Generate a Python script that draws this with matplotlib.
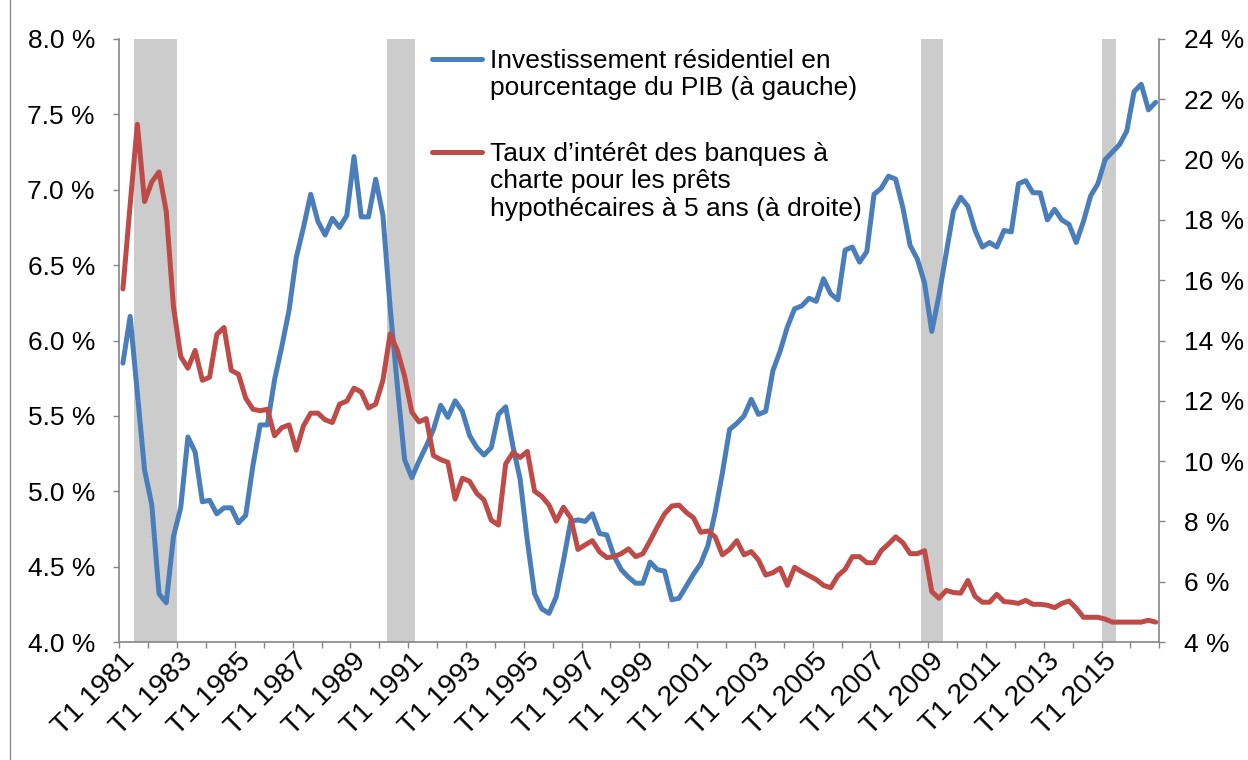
import matplotlib
matplotlib.use("Agg")
import matplotlib.pyplot as plt
from matplotlib.lines import Line2D
from matplotlib.transforms import ScaledTranslation
import numpy as np

plt.rcParams['font.family'] = ['Liberation Sans', 'DejaVu Sans']

# ---------------- data ----------------
years = list(range(1981, 2017))
quarters = [f"T{q} {y}" for y in years for q in range(1, 5)]

# Residential investment as % of GDP (left axis)
res_invest = [
    5.85, 6.16, 5.65, 5.14, 4.91, 4.32, 4.26, 4.70,   # 1981-82
    4.89, 5.36, 5.26, 4.93, 4.94, 4.85, 4.89, 4.89,   # 1983-84
    4.79, 4.84, 5.17, 5.44, 5.44, 5.74, 5.96, 6.20,   # 1985-86
    6.55, 6.75, 6.97, 6.79, 6.70, 6.81, 6.75, 6.83,   # 1987-88
    7.22, 6.82, 6.82, 7.07, 6.83, 6.22, 5.70, 5.21,   # 1989-90
    5.09, 5.20, 5.30, 5.41, 5.57, 5.49, 5.60, 5.53,   # 1991-92
    5.37, 5.29, 5.24, 5.29, 5.51, 5.56, 5.30, 5.08,   # 1993-94
    4.67, 4.32, 4.22, 4.19, 4.30, 4.54, 4.80, 4.81,   # 1995-96
    4.80, 4.85, 4.72, 4.71, 4.57, 4.48, 4.43, 4.39,   # 1997-98
    4.39, 4.53, 4.48, 4.47, 4.28, 4.29, 4.37, 4.45,   # 1999-00
    4.52, 4.64, 4.86, 5.12, 5.41, 5.45, 5.50, 5.61,   # 2001-02
    5.51, 5.53, 5.80, 5.93, 6.09, 6.21, 6.23, 6.28,   # 2003-04
    6.26, 6.41, 6.31, 6.27, 6.60, 6.62, 6.52, 6.59,   # 2005-06
    6.97, 7.01, 7.09, 7.07, 6.88, 6.63, 6.54, 6.38,   # 2007-08
    6.06, 6.30, 6.58, 6.86, 6.95, 6.89, 6.73, 6.62,   # 2009-10
    6.65, 6.62, 6.73, 6.72, 7.04, 7.06, 6.98, 6.98,   # 2011-12
    6.80, 6.87, 6.80, 6.77, 6.65, 6.79, 6.96, 7.04,   # 2013-14
    7.20, 7.25, 7.30, 7.39, 7.65, 7.70, 7.53, 7.58,   # 2015-16
]

# Chartered bank 5-year mortgage rate (right axis)
mortgage_rate = [
    15.71, 18.50, 21.17, 18.61, 19.26, 19.59, 18.28, 15.12,
    13.47, 13.08, 13.67, 12.68, 12.78, 14.20, 14.43, 13.01,
    12.88, 12.09, 11.72, 11.67, 11.72, 10.84, 11.11, 11.20,
    10.36, 11.17, 11.59, 11.59, 11.37, 11.28, 11.89, 11.99,
    12.42, 12.29, 11.76, 11.89, 12.68, 14.22, 13.67, 12.82,
    11.63, 11.30, 11.41, 10.18, 10.05, 9.96, 8.74, 9.43,
    9.33, 8.93, 8.71, 8.04, 7.88, 9.91, 10.28, 10.12,
    10.32, 9.00, 8.83, 8.54, 8.01, 8.47, 8.12, 7.07,
    7.22, 7.36, 6.99, 6.80, 6.83, 6.93, 7.09, 6.83,
    6.93, 7.36, 7.82, 8.25, 8.51, 8.54, 8.30, 8.12,
    7.64, 7.68, 7.49, 6.89, 7.07, 7.36, 6.89, 7.00,
    6.72, 6.22, 6.30, 6.45, 5.88, 6.48, 6.33, 6.20,
    6.07, 5.88, 5.80, 6.20, 6.41, 6.83, 6.83, 6.63,
    6.63, 7.03, 7.25, 7.49, 7.29, 6.93, 6.93, 7.03,
    5.67, 5.45, 5.71, 5.64, 5.62, 6.04, 5.51, 5.32,
    5.32, 5.58, 5.34, 5.32, 5.28, 5.38, 5.25, 5.25,
    5.22, 5.14, 5.28, 5.36, 5.12, 4.82, 4.82, 4.82,
    4.76, 4.66, 4.66, 4.66, 4.66, 4.66, 4.72, 4.66,
]

# Recession periods (first and last quarter)
recessions = [("T3 1981", "T4 1982"), ("T2 1990", "T1 1991"),
              ("T4 2008", "T2 2009"), ("T1 2015", "T2 2015")]

left_ticks = [4.0, 4.5, 5.0, 5.5, 6.0, 6.5, 7.0, 7.5, 8.0]
right_ticks = [4, 6, 8, 10, 12, 14, 16, 18, 20, 22, 24]

label_invest = "Investissement résidentiel en\npourcentage du PIB (à gauche)"
label_rate = "Taux d\u2019intérêt des banques à\ncharte pour les prêts\nhypothécaires à 5 ans (à droite)"

# ---------------- styling ----------------
BLUE = "#4A7EBB"
RED = "#BE4B48"
GREY = "#868686"
BAND = "#CCCCCC"
FS = 19
LW = 3.6

W, H = 1248, 760
fig = plt.figure(figsize=(W / 100, H / 100), dpi=100)
ax_l, ax_r, ax_t, ax_b = 119.3, 1159.3, 39.0, 642.0
ax = fig.add_axes([ax_l / W, 1 - ax_b / H, (ax_r - ax_l) / W, (ax_b - ax_t) / H])
ax2 = ax.twinx()

x = np.arange(len(quarters))

for start, end in recessions:
    i0 = quarters.index(start)
    i1 = quarters.index(end)
    ax.axvspan(i0 - 0.5, i1 + 0.5, color=BAND, lw=0, zorder=0)

ax.plot(x, res_invest, color=BLUE, lw=LW, solid_capstyle='round',
        solid_joinstyle='round', zorder=3)
ax2.plot(x, mortgage_rate, color=RED, lw=LW, solid_capstyle='round',
         solid_joinstyle='round', zorder=3)

ax.set_xlim(-0.5, len(quarters) - 0.5)
ax.set_ylim(4.0, 8.0)
ax2.set_ylim(4, 24)

ax.set_yticks(left_ticks)
ax.set_yticklabels([f"{v:.1f} %" for v in left_ticks])
ax2.set_yticks(right_ticks)
ax2.set_yticklabels([f"{v} %" for v in right_ticks])

# x ticks: year boundaries (major, unlabeled), labels every 2 years (minor)
ax.set_xticks(np.arange(-0.5, len(quarters), 4))
ax.set_xticklabels([])
lab_pos = x[::8]
ax.set_xticks(lab_pos, minor=True)
ax.set_xticklabels([quarters[i] for i in lab_pos], minor=True)
ax.tick_params(axis='x', which='major', direction='out', length=4.5, width=1,
               color=GREY)
ax.tick_params(axis='x', which='minor', length=0, pad=11, labelsize=20.5)
shift = ScaledTranslation(8 / 100, 0, fig.dpi_scale_trans)
for lab in ax.get_xticklabels(minor=True):
    lab.set_rotation(45)
    lab.set_ha('right')
    lab.set_va('center')
    lab.set_rotation_mode('anchor')
    lab.set_transform(lab.get_transform() + shift)

ax.tick_params(axis='y', direction='out', length=4.5, width=1, color=GREY,
               labelsize=FS, pad=13)
ax2.tick_params(axis='y', direction='out', length=4.5, width=1, color=GREY,
                labelsize=FS, pad=13)

for s in ['top', 'right']:
    ax.spines[s].set_visible(False)
for s in ['top', 'left', 'bottom']:
    ax2.spines[s].set_visible(False)
for s in ['left', 'bottom']:
    ax.spines[s].set_color(GREY)
    ax.spines[s].set_linewidth(1.2)
ax2.spines['right'].set_color(GREY)
ax2.spines['right'].set_linewidth(1.2)

# legend (drawn manually, handles aligned with first text line)
def px2ax(px, py):
    return (px - ax_l) / (ax_r - ax_l), 1 - (py - ax_t) / (ax_b - ax_t)

for color, text, hy, ty in [(BLUE, label_invest, 59.3, 48.5),
                            (RED, label_rate, 152.3, 141.5)]:
    (hx0, hy0) = px2ax(432, hy)
    (hx1, _) = px2ax(482, hy)
    ax.add_line(Line2D([hx0, hx1], [hy0, hy0], transform=ax.transAxes,
                       color=color, lw=LW, solid_capstyle='round',
                       clip_on=False, zorder=5))
    tx, tyy = px2ax(490, ty)
    ax.text(tx, tyy, text, transform=ax.transAxes, fontsize=FS,
            ha='left', va='top', color='black', zorder=5)

# outer chart border (left edge visible)
fig.add_artist(Line2D([10 / W, 10 / W], [0, 1], transform=fig.transFigure,
                      color="#8c8c8c", lw=1))

fig.savefig("out.png", dpi=100)
